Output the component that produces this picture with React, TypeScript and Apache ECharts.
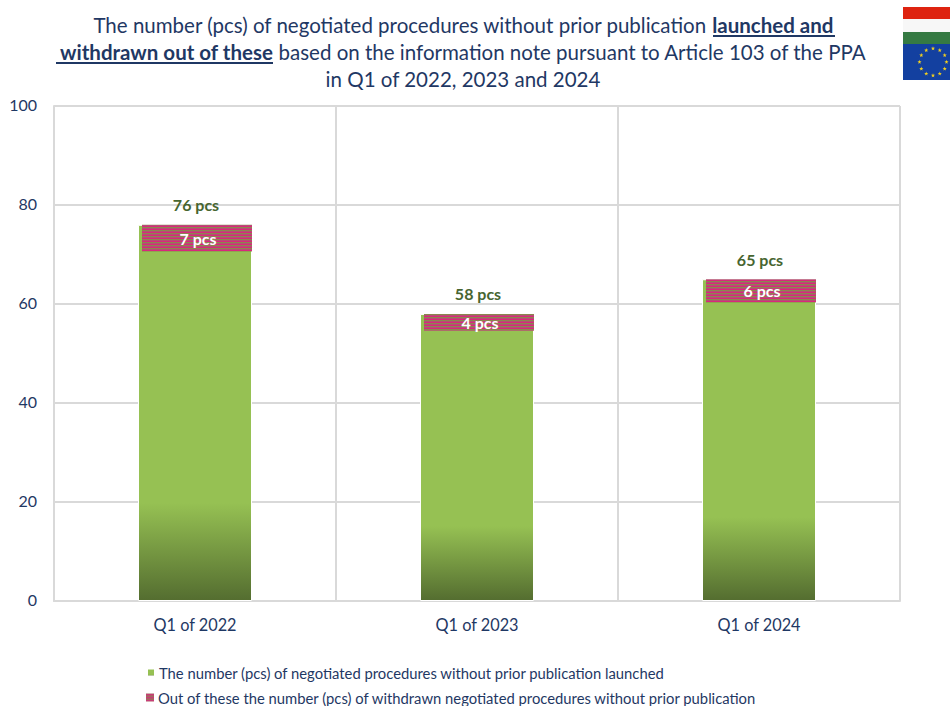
import React, { useEffect, useRef } from "react";
import * as echarts from "echarts";

const categories = ["Q1 of 2022", "Q1 of 2023", "Q1 of 2024"];
const launched = [76, 58, 65];
const withdrawnLabels = [7, 4, 6];
// the striped band as drawn in the picture: where it starts and how tall it is
const bandStart = [70.6, 54.6, 60.3];
const bandHeight = [5.4, 3.4, 4.7];
const launchedName = "The number (pcs) of negotiated procedures without prior publication launched";
const withdrawnName = "Out of these the number (pcs) of withdrawn negotiated procedures without prior publication";
const titleLines = [
  ["The number (pcs) of negotiated procedures without prior publication ", "launched and"],
  ["withdrawn out of these ", "based on the information note pursuant to Article 103 of the PPA"],
  ["in Q1 of 2022, 2023 and 2024"],
];

const NAVY = "#1f3864";
const FONT = "Lato";
const GAP = "-96.5%";

function stripes() {
  const c = document.createElement("canvas");
  c.width = 4;
  c.height = 3;
  const g = c.getContext("2d")!;
  g.fillStyle = "#b54f72";
  g.fillRect(0, 0, 4, 1);
  g.fillStyle = "#d8287c";
  g.fillRect(0, 1, 4, 1);
  g.fillStyle = "#8c864e";
  g.fillRect(0, 2, 4, 1);
  return c;
}

function star(cx: number, cy: number, r: number) {
  const pts: number[][] = [];
  for (let i = 0; i < 10; i++) {
    const a = -Math.PI / 2 + (i * Math.PI) / 5;
    const q = i % 2 ? r * 0.4 : r;
    pts.push([cx + q * Math.cos(a), cy + q * Math.sin(a)]);
  }
  return { type: "polygon", shape: { points: pts }, style: { fill: "#f2cf1f" }, silent: true };
}

export default function App() {
  const ref = useRef<HTMLDivElement>(null);
  useEffect(() => {
    document.body.style.margin = "0";
    const chart = echarts.init(ref.current!, null, { renderer: "svg" });
    const pattern = { image: stripes(), repeat: "repeat" };
    const stars = Array.from({ length: 12 }, (_, i) => {
      const a = (i * Math.PI) / 6;
      return star(933 + 13.5 * Math.sin(a), 62 - 13.5 * Math.cos(a), 2.2);
    });
    const legendText = { fontFamily: FONT, fontSize: 14.8, color: NAVY, padding: [0, 0, 0, -1] };
    chart.setOption({
      animation: false,
      backgroundColor: "#fff",
      textStyle: { fontFamily: FONT },
      title: {
        left: 458,
        top: 6,
        textAlign: "center",
        text: [
          `{n|${titleLines[0][0]}}{b|${titleLines[0][1]}}`,
          `{b|${titleLines[1][0]}}{n|${titleLines[1][1]}}`,
          `{n|${titleLines[2][0]}}`,
        ].join("\n"),
        textStyle: {
          fontWeight: "normal",
          rich: {
            n: { fontFamily: FONT, fontSize: 20.5, fontWeight: "normal", color: NAVY, lineHeight: 27 },
            b: { fontFamily: FONT, fontSize: 20.5, fontWeight: "bold", color: NAVY, lineHeight: 27 },
          },
        },
      },
      grid: { left: 54, right: 50, top: 106, bottom: 105 },
      legend: [
        {
          left: 146,
          top: 665,
          padding: 0,
          icon: "rect",
          itemWidth: 8,
          itemHeight: 8,
          data: [launchedName],
          textStyle: legendText,
        },
        {
          left: 146,
          top: 690,
          padding: 0,
          icon: "rect",
          itemWidth: 8,
          itemHeight: 8,
          data: [withdrawnName],
          textStyle: legendText,
        },
      ],
      xAxis: {
        type: "category",
        data: categories,
        axisTick: { show: false },
        axisLine: { lineStyle: { color: "#d9d9d9", width: 2 } },
        axisLabel: { color: NAVY, fontSize: 16.3, margin: 15, fontFamily: FONT },
        splitLine: { show: true, lineStyle: { color: "#d9d9d9", width: 2 } },
      },
      yAxis: {
        type: "value",
        min: 0,
        max: 100,
        interval: 20,
        axisLine: { show: true, lineStyle: { color: "#d9d9d9", width: 2 } },
        axisTick: { show: false },
        axisLabel: {
          color: NAVY,
          fontSize: 16,
          margin: 17,
          fontFamily: FONT,
          formatter: "{v|{value}}",
          rich: { v: { color: NAVY, fontSize: 16, fontFamily: FONT, padding: [0, 0, 4, 0] } },
        },
        splitLine: { show: true, lineStyle: { color: "#d9d9d9", width: 2 } },
      },
      series: [
        {
          name: launchedName,
          type: "bar",
          stack: "a",
          barWidth: 114,
          barGap: GAP,
          data: launched,
          itemStyle: {
            color: {
              type: "linear",
              x: 0,
              y: 0,
              x2: 0,
              y2: 1,
              colorStops: [
                { offset: 0, color: "#96c153" },
                { offset: 0.74, color: "#96c153" },
                { offset: 1, color: "#546d30" },
              ],
            },
            borderColor: "#fff",
            borderWidth: 1,
          },
          label: {
            show: true,
            position: "top",
            distance: 10,
            offset: [1, -2],
            formatter: "{c} pcs",
            color: "#476530",
            fontSize: 16,
            fontWeight: "bold",
            fontFamily: FONT,
          },
        },
        {
          name: "offset",
          type: "bar",
          stack: "b",
          barWidth: 110,
          barGap: GAP,
          data: bandStart,
          itemStyle: { color: "transparent" },
          silent: true,
        },
        {
          name: withdrawnName,
          type: "bar",
          stack: "b",
          barWidth: 110,
          barGap: GAP,
          data: bandHeight,
          itemStyle: { color: pattern },
          label: {
            show: true,
            position: "inside",
            offset: [1, 0],
            formatter: (p: any) => `${withdrawnLabels[p.dataIndex]} pcs`,
            color: "#fff",
            fontSize: 16,
            fontWeight: "bold",
            fontFamily: FONT,
          },
        },
      ],
      graphic: [
        { type: "rect", shape: { x: 903, y: 7, width: 47, height: 12 }, style: { fill: "#de2310" }, silent: true },
        { type: "rect", shape: { x: 903, y: 19, width: 47, height: 13 }, style: { fill: "#f7f7f7" }, silent: true },
        { type: "rect", shape: { x: 903, y: 32, width: 47, height: 12 }, style: { fill: "#357a43" }, silent: true },
        { type: "rect", shape: { x: 903, y: 44, width: 47, height: 36 }, style: { fill: "#1340a0" }, silent: true },
        ...stars,
        { type: "rect", shape: { x: 713, y: 35, width: 122, height: 2 }, style: { fill: NAVY }, silent: true },
        { type: "rect", shape: { x: 56, y: 62, width: 217, height: 2 }, style: { fill: NAVY }, silent: true },
      ],
    });
    return () => chart.dispose();
  }, []);
  return <div ref={ref} style={{ width: 950, height: 706 }} />;
}
